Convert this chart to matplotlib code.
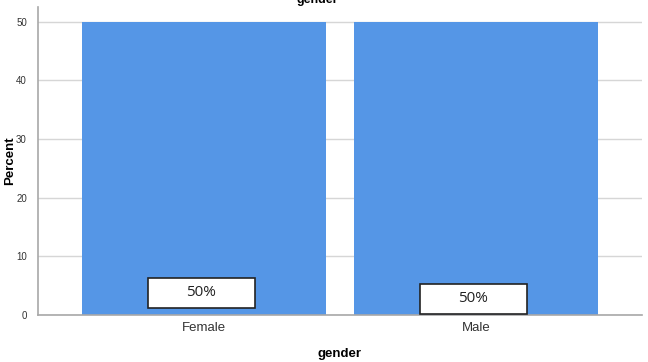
import matplotlib.pyplot as plt
from matplotlib.patches import Rectangle

categories = ['Female', 'Male']
percent = [50, 50]
labels = ['50%', '50%']

plt.rcParams['font.family'] = ['Liberation Sans', 'DejaVu Sans']

fig = plt.figure(figsize=(6.48, 3.62), dpi=100)
ax = fig.add_axes([38/648, 1 - 315/362, 604/648, 308/362])

x = list(range(len(categories)))
bars = ax.bar(x, percent, width=0.897, color='#5596e6', zorder=2)

ax.set_xlim(-0.61, 1.61)
ax.set_ylim(0, 52.5)
ax.set_yticks([0, 10, 20, 30, 40, 50])
ax.set_xticks(x)
ax.set_xticklabels(categories)
ax.tick_params(axis='y', length=0, labelsize=7, colors='#333333', pad=8)
ax.tick_params(axis='x', length=0, labelsize=9.5, colors='#333333', pad=5)
ax.yaxis.grid(True, color='#d6d6d6', linewidth=1, zorder=0)
ax.set_axisbelow(True)
for s in ['top', 'right']:
    ax.spines[s].set_visible(False)
for s in ['left', 'bottom']:
    ax.spines[s].set_color('#a8a8a8')
    ax.spines[s].set_linewidth(1.2)

ax.set_ylabel('Percent', fontsize=9.5, fontweight='bold')
ax.yaxis.set_label_coords(-22/604, 0.5)
ax.set_xlabel('gender', fontsize=9.5, fontweight='bold')
ax.xaxis.set_label_coords(0.5, -33/308)
fig.text(317/648, 1.0, 'gender', ha='center', va='center', fontsize=9, fontweight='bold')

# SPSS-style label boxes near the bar base
box_bottoms = [1.19, 0.17]
box_w, box_h = 0.393, 5.12
for i, b in enumerate(bars):
    cx = b.get_x() + b.get_width() / 2 - 0.01
    y0 = box_bottoms[i]
    ax.add_patch(Rectangle((cx - box_w / 2, y0), box_w, box_h, facecolor='white',
                           edgecolor='#222222', linewidth=1.2, zorder=3))
    ax.text(cx, y0 + box_h / 2, labels[i], ha='center', va='center', fontsize=11,
            family=['Open Sans', 'DejaVu Sans'], color='#222222', zorder=4)

fig.savefig('out.png', dpi=100)
